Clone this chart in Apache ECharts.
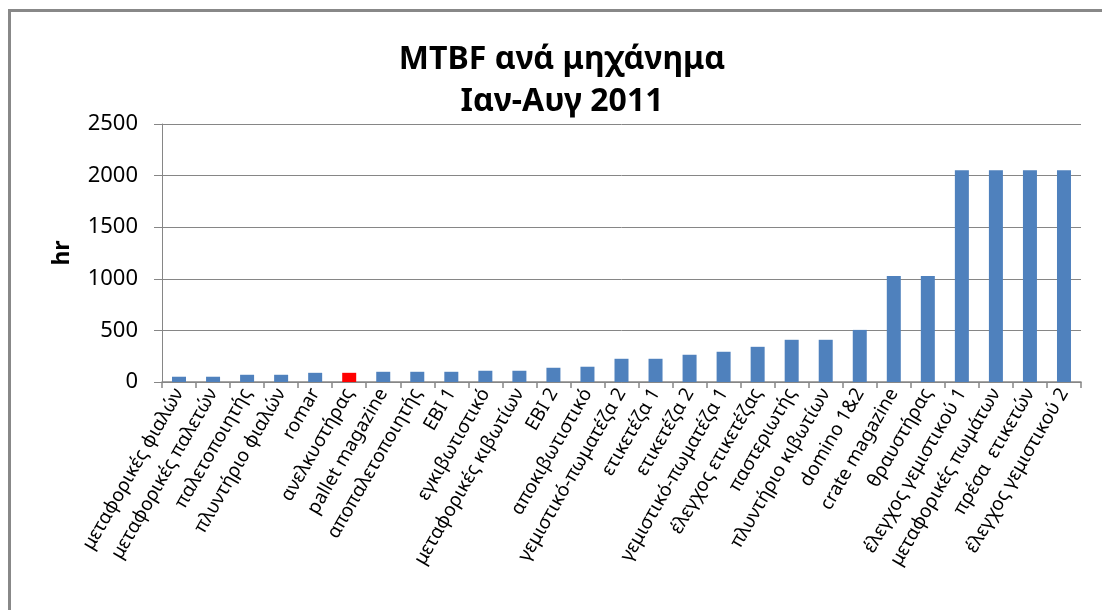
<!DOCTYPE html>
<html>
<head>
<meta charset="utf-8">
<script src="https://cdn.jsdelivr.net/npm/echarts@6/dist/echarts.min.js"></script>
<style>
html,body{margin:0;padding:0;background:#fff;}
#chart{width:1102px;height:610px;}
</style>
</head>
<body>
<div id="chart"></div>
<script>
const categories = [
  "μεταφορικές φιαλών","μεταφορικές παλετών","παλετοποιητής","πλυντήριο φιαλών","romar",
  "ανελκυστήρας","pallet magazine","αποπαλετοποιητής","EBI 1","εγκιβωτιστικό",
  "μεταφορικές κιβωτίων","EBI 2","αποκιβωτιστικό","γεμιστικό-πωματέζα 2","ετικετέζα 1",
  "ετικετέζα 2","γεμιστικό-πωματέζα 1","έλεγχος ετικετέζας","παστεριωτής","πλυντήριο κιβωτίων",
  "domino 1&2","crate magazine","θραυστήρας","έλεγχος γεμιστικού 1","μεταφορικές πωμάτων",
  "πρέσα  ετικετών","έλεγχος γεμιστικού 2"
];
const mtbfHours = [
  51, 51, 70, 70, 89,
  89, 99, 99, 99, 109,
  109, 138, 148, 225, 225,
  264, 293, 341, 409, 409,
  505, 1027, 1027, 2051, 2051,
  2051, 2051
];
const highlighted = ["ανελκυστήρας"];
const yTicks = [0, 500, 1000, 1500, 2000, 2500];

const chart = echarts.init(document.getElementById('chart'), null, {renderer:'canvas'});
const FONT = '"Noto Sans", "DejaVu Sans", sans-serif';
chart.setOption({
  animation: false,
  backgroundColor: '#fff',
  title: {
    text: 'MTBF ανά μηχάνημα\nΙαν-Αυγ 2011',
    left: 557, top: 34, textAlign: 'center',
    textStyle: {fontFamily: FONT, fontSize: 32, fontWeight: 'bold', color: '#000', lineHeight: 42}
  },
  grid: {left: 162, right: 21, top: 124, bottom: 228, containLabel: false},
  xAxis: {
    type: 'category',
    data: categories,
    axisLine: {lineStyle: {color: '#868686', width: 1.5}},
    axisTick: {show: true, alignWithLabel: false, length: 6, lineStyle: {color: '#868686', width: 1.5}},
    axisLabel: {interval: 0, rotate: 60, margin: 8, fontFamily: FONT, fontSize: 19, color: '#000'}
  },
  yAxis: {
    type: 'value',
    min: yTicks[0], max: yTicks[yTicks.length-1], interval: 500,
    name: 'hr', nameLocation: 'middle', nameGap: 88, nameRotate: 90,
    nameTextStyle: {fontFamily: FONT, fontSize: 23, fontWeight: 'bold', color: '#000'},
    axisLine: {show: true, lineStyle: {color: '#868686', width: 1}},
    axisTick: {show: true, inside: false, length: 8, lineStyle: {color: '#868686'}},
    axisLabel: {margin: 24, fontFamily: FONT, fontSize: 22, color: '#000', formatter: v => String(v)},
    splitLine: {show: true, lineStyle: {color: '#868686', width: 1}}
  },
  series: [{
    type: 'bar',
    barWidth: 14,
    data: mtbfHours.map((v, i) => highlighted.includes(categories[i])
      ? {value: v, itemStyle: {color: '#FF0000'}}
      : {value: v}),
    itemStyle: {color: '#4F81BD'}
  }],
  graphic: [{
    type: 'polyline',
    shape: {points: [[9.5, 620], [9.5, 10.5], [1110, 10.5]]},
    style: {stroke: '#888888', lineWidth: 3, fill: null},
    silent: true
  }]
});
</script>
</body>
</html>
